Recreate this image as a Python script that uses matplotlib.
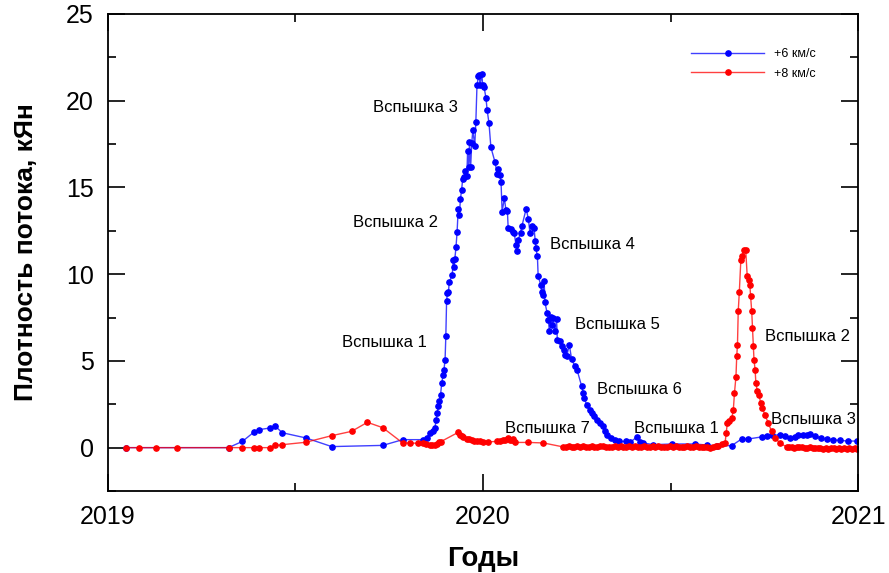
"""
Flux density of the source, two velocity components, 2019-2021.
"""
import matplotlib
matplotlib.use("Agg")
import matplotlib.pyplot as plt
from matplotlib.ticker import MultipleLocator

plt.rcParams['font.family'] = ['Liberation Sans', 'DejaVu Sans']

# +6 km/s component: (decimal year, flux kJy)
years_6 = [2019.049, 2019.322, 2019.359, 2019.390, 2019.404, 2019.432, 2019.446, 2019.465,
           2019.528, 2019.597, 2019.733, 2019.786, 2019.839, 2019.850, 2019.859, 2019.868,
           2019.872, 2019.875, 2019.878, 2019.881, 2019.884, 2019.887, 2019.890, 2019.894,
           2019.896, 2019.899, 2019.901, 2019.903, 2019.905, 2019.908, 2019.910, 2019.918,
           2019.921, 2019.923, 2019.925, 2019.928, 2019.931, 2019.934, 2019.937, 2019.940,
           2019.943, 2019.946, 2019.950, 2019.953, 2019.957, 2019.959, 2019.962, 2019.964,
           2019.967, 2019.970, 2019.973, 2019.978, 2019.981, 2019.984, 2019.988, 2019.990,
           2019.992, 2019.997, 2019.999, 2020.003, 2020.008, 2020.011, 2020.016, 2020.021,
           2020.032, 2020.038, 2020.041, 2020.045, 2020.048, 2020.051, 2020.057, 2020.061,
           2020.065, 2020.067, 2020.074, 2020.079, 2020.083, 2020.088, 2020.091, 2020.094,
           2020.100, 2020.104, 2020.115, 2020.121, 2020.125, 2020.131, 2020.136, 2020.139,
           2020.141, 2020.145, 2020.147, 2020.154, 2020.156, 2020.159, 2020.163, 2020.165,
           2020.171, 2020.174, 2020.177, 2020.180, 2020.183, 2020.187, 2020.192, 2020.196,
           2020.198, 2020.205, 2020.210, 2020.216, 2020.219, 2020.223, 2020.230, 2020.236,
           2020.245, 2020.251, 2020.263, 2020.267, 2020.270, 2020.276, 2020.285, 2020.290,
           2020.296, 2020.303, 2020.312, 2020.319, 2020.325, 2020.330, 2020.340, 2020.352,
           2020.363, 2020.381, 2020.392, 2020.410, 2020.418, 2020.427, 2020.454, 2020.503,
           2020.565, 2020.596, 2020.623, 2020.663, 2020.689, 2020.707, 2020.743, 2020.756,
           2020.770, 2020.791, 2020.805, 2020.818, 2020.830, 2020.840, 2020.852, 2020.863,
           2020.871, 2020.885, 2020.900, 2020.916, 2020.932, 2020.951, 2020.973, 2020.996]
flux_6 = [0.00, 0.00, 0.36, 0.90, 1.04, 1.13, 1.25, 0.86,
          0.56, 0.06, 0.13, 0.46, 0.46, 0.56, 0.85, 0.94,
          1.13, 1.61, 2.00, 2.38, 2.67, 3.05, 3.73, 4.20,
          4.49, 5.07, 6.45, 8.43, 8.91, 8.97, 9.54, 9.95,
          10.80, 10.44, 10.90, 11.54, 12.44, 13.77, 13.42, 14.34,
          14.86, 15.50, 15.60, 15.97, 15.65, 17.10, 16.15, 17.60,
          16.15, 17.55, 18.30, 17.40, 18.80, 20.90, 21.40, 21.50,
          20.90, 21.55, 20.90, 20.78, 20.14, 19.47, 18.70, 17.32,
          16.46, 15.77, 16.07, 15.69, 15.34, 13.61, 14.38, 13.71,
          13.67, 12.69, 12.60, 12.44, 12.40, 11.68, 11.31, 11.98,
          12.40, 12.80, 13.77, 13.17, 12.40, 12.80, 12.65, 11.92,
          11.50, 11.02, 9.87, 9.39, 9.00, 8.81, 9.58, 8.37,
          7.76, 7.37, 6.70, 7.56, 7.09, 7.47, 6.70, 7.41,
          6.22, 6.12, 5.84, 5.65, 5.36, 5.26, 5.93, 5.11,
          4.68, 4.45, 3.53, 3.15, 2.86, 2.48, 2.15, 2.00,
          1.80, 1.61, 1.42, 1.23, 0.94, 0.75, 0.56, 0.46,
          0.36, 0.36, 0.30, 0.62, 0.30, 0.27, 0.17, 0.21,
          0.21, 0.15, 0.10, 0.12, 0.50, 0.50, 0.62, 0.65,
          0.70, 0.75, 0.66, 0.56, 0.62, 0.75, 0.72, 0.75,
          0.81, 0.65, 0.55, 0.50, 0.45, 0.42, 0.38, 0.38]

# +8 km/s component
years_8 = [2019.049, 2019.084, 2019.129, 2019.185, 2019.322, 2019.359, 2019.390, 2019.404,
           2019.432, 2019.446, 2019.465, 2019.528, 2019.597, 2019.650, 2019.692, 2019.733,
           2019.786, 2019.806, 2019.827, 2019.839, 2019.848, 2019.859, 2019.864, 2019.872,
           2019.877, 2019.884, 2019.888, 2019.934, 2019.939, 2019.943, 2019.948, 2019.957,
           2019.963, 2019.970, 2019.976, 2019.983, 2019.992, 2020.000, 2020.013, 2020.037,
           2020.045, 2020.054, 2020.059, 2020.067, 2020.072, 2020.077, 2020.081, 2020.085,
           2020.121, 2020.161, 2020.214,
           2020.220, 2020.228, 2020.236, 2020.243, 2020.251, 2020.259, 2020.266, 2020.274,
           2020.282, 2020.290, 2020.297, 2020.305, 2020.313, 2020.320, 2020.328, 2020.336,
           2020.344, 2020.351, 2020.359, 2020.367, 2020.374, 2020.382, 2020.390, 2020.398,
           2020.405, 2020.413, 2020.421, 2020.428, 2020.436, 2020.444, 2020.452, 2020.459,
           2020.467, 2020.475, 2020.482, 2020.490, 2020.498, 2020.506, 2020.513, 2020.521,
           2020.529, 2020.536, 2020.544, 2020.552, 2020.560, 2020.567, 2020.575, 2020.583,
           2020.590, 2020.598, 2020.605, 2020.612, 2020.620, 2020.627, 2020.636, 2020.645,
           2020.648, 2020.651, 2020.656, 2020.663, 2020.667, 2020.670, 2020.674, 2020.676,
           2020.678, 2020.680, 2020.683, 2020.687, 2020.691, 2020.695, 2020.700, 2020.704,
           2020.709, 2020.711, 2020.713, 2020.716, 2020.718, 2020.720, 2020.722, 2020.725,
           2020.727, 2020.731, 2020.735, 2020.740, 2020.744, 2020.751, 2020.760, 2020.769,
           2020.778, 2020.791, 2020.809,
           2020.815, 2020.822, 2020.829, 2020.836, 2020.843, 2020.850, 2020.857, 2020.864,
           2020.871, 2020.878, 2020.885, 2020.892, 2020.899, 2020.906, 2020.913, 2020.920,
           2020.927, 2020.934, 2020.941, 2020.948, 2020.955, 2020.962, 2020.969, 2020.976,
           2020.983, 2020.990, 2020.997]
flux_8 = [0.00, 0.00, 0.00, 0.00, 0.00, 0.00, 0.00, 0.00,
          0.00, 0.13, 0.17, 0.31, 0.69, 0.94, 1.46, 1.15,
          0.27, 0.27, 0.25, 0.27, 0.20, 0.17, 0.15, 0.17,
          0.20, 0.31, 0.35, 0.88, 0.75, 0.65, 0.60, 0.50,
          0.48, 0.42, 0.40, 0.36, 0.36, 0.33, 0.33, 0.36,
          0.40, 0.46, 0.42, 0.56, 0.45, 0.42, 0.50, 0.30,
          0.30, 0.27, 0.04,
          0.05, 0.08, 0.03, 0.06, 0.09, 0.04, 0.07, 0.02,
          0.06, 0.08, 0.05, 0.03, 0.07, 0.09, 0.04, 0.06,
          0.02, 0.08, 0.05, 0.07, 0.03, 0.06, 0.09, 0.04,
          0.07, 0.02, 0.05, 0.08, 0.06, 0.03, 0.07, 0.05,
          0.09, 0.04, 0.06, 0.02, 0.07, 0.05, 0.08, 0.03,
          0.06, 0.04, 0.07, 0.02, 0.05, 0.08, 0.04, 0.06,
          0.03, 0.05, 0.00, 0.04, 0.08, 0.12, 0.20, 0.27,
          0.85, 1.42, 1.52, 1.71, 2.19, 3.15, 4.10, 5.26,
          5.93, 7.85, 9.00, 10.83, 11.06, 11.37, 11.37, 9.87,
          9.68, 9.39, 8.72, 7.85, 6.90, 5.84, 5.07, 4.49,
          3.73, 3.24, 3.05, 2.57, 2.29, 1.90, 1.42, 0.94,
          0.56, 0.27, 0.04,
          0.02, 0.05, 0.00, 0.03, 0.06, 0.02, -0.02, 0.00,
          0.03, -0.03, -0.01, -0.04, -0.02, -0.05, -0.03, -0.06,
          -0.04, -0.02, -0.05, -0.03, -0.06, -0.04, -0.05, -0.03,
          -0.06, -0.04, -0.05]

series_labels = ['+6 км/с', '+8 км/с']

# flare labels: (text, year, flux)
flare_labels = [
    ('Вспышка 1', 2019.737, 6.05),
    ('Вспышка 2', 2019.766, 12.96),
    ('Вспышка 3', 2019.819, 19.59),
    ('Вспышка 4', 2020.292, 11.69),
    ('Вспышка 5', 2020.358, 7.09),
    ('Вспышка 6', 2020.416, 3.34),
    ('Вспышка 7', 2020.173, 1.13),
    ('Вспышка 1', 2020.516, 1.13),
    ('Вспышка 2', 2020.865, 6.38),
    ('Вспышка 3', 2020.880, 1.61),
]

fig = plt.figure(figsize=(8.89, 5.73), dpi=100)
ax = fig.add_axes([0.1211, 0.1431, 0.8444, 0.8325])

ax.plot(years_6, flux_6, '-o', color=(0, 0, 1, 0.75), lw=1.0, ms=3.8,
        mfc='blue', mec='blue', label=series_labels[0])
ax.plot(years_8, flux_8, '-o', color=(1, 0, 0, 0.75), lw=1.0, ms=3.8,
        mfc='red', mec='red', label=series_labels[1])

for txt, x, y in flare_labels:
    ax.text(x, y, txt, ha='center', va='center', fontsize=12)

ax.set_xlim(2019, 2021)
ax.set_ylim(-2.5, 25)
ax.xaxis.set_major_locator(MultipleLocator(1))
ax.xaxis.set_minor_locator(MultipleLocator(0.5))
ax.yaxis.set_major_locator(MultipleLocator(5))
ax.yaxis.set_minor_locator(MultipleLocator(2.5))
ax.xaxis.set_major_formatter(plt.FuncFormatter(lambda v, p: f'{v:.0f}'))
ax.yaxis.set_major_formatter(plt.FuncFormatter(lambda v, p: f'{v:.0f}'))
ax.tick_params(which='both', direction='in', top=True, right=True, width=1.2)
ax.tick_params(which='major', length=12, labelsize=18, pad=10)
ax.tick_params(which='minor', length=6)
for s in ax.spines.values():
    s.set_linewidth(1.3)

ax.set_xlabel('Годы', fontsize=20, fontweight='bold', labelpad=12)
ax.set_ylabel('Плотность потока, кЯн', fontsize=19, fontweight='bold', labelpad=20)

ax.legend(loc='upper right', bbox_to_anchor=(0.958, 0.952), frameon=False, fontsize=9,
          handlelength=5.8, labelspacing=0.6, handletextpad=0.8)

fig.savefig('out.png', dpi=100)
